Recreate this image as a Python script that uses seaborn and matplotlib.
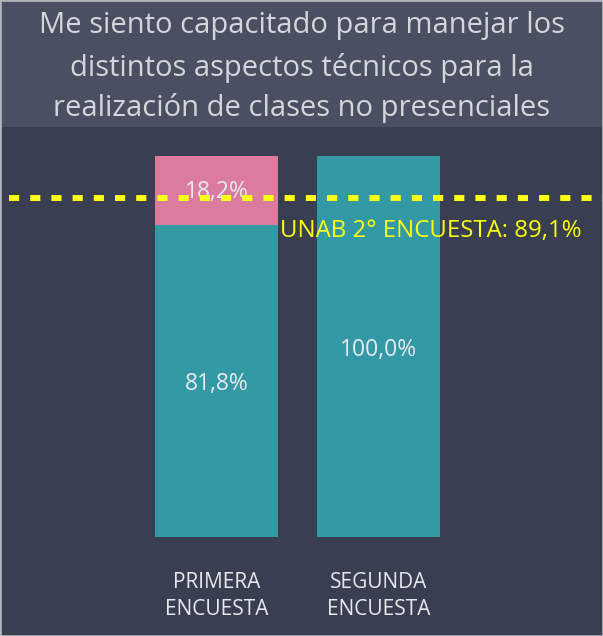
import matplotlib
matplotlib.use("Agg")
import matplotlib.pyplot as plt
import seaborn as sns
import pandas as pd
from matplotlib.patches import Rectangle

categories = ["PRIMERA\nENCUESTA", "SEGUNDA\nENCUESTA"]
teal_values = [81.8, 100.0]
pink_values = [18.2, 0.0]
reference_value = 89.1
reference_label = "UNAB 2° ENCUESTA: 89,1%"
title_lines = ["Me siento capacitado para manejar los",
               "distintos aspectos técnicos para la",
               "realización de clases no presenciales"]

BG = "#393e50"
BAND = "#4a5061"
TEAL = "#3399a4"
PINK = "#db7c9e"
TXT = "#e6e9ef"
YEL = "#fbff12"

sns.set_theme(style="white")
plt.rcParams['font.family'] = ['Open Sans', 'DejaVu Sans']

df = pd.DataFrame({"cat": categories, "teal": teal_values, "pink": pink_values})
df["total"] = df["teal"] + df["pink"]

fig = plt.figure(figsize=(6.03, 6.36), dpi=100)
fig.patch.set_facecolor(BG)

# title band
fig.patches.append(Rectangle((0, 1 - 127/636), 1, 127/636, transform=fig.transFigure,
                             facecolor=BAND, edgecolor="none", zorder=0))
for line, ypx in zip(title_lines, [26, 68, 108]):
    fig.text(0.5, 1 - ypx/636, line, ha="center", va="center", color="#d4d6dc",
             fontsize=21)

ax = fig.add_axes([0, (636-537)/636, 1, 381/636])
ax.set_facecolor("none")
sns.barplot(data=df, x="cat", y="total", color=PINK, width=0.76, ax=ax,
            saturation=1, edgecolor="none", linewidth=0)
sns.barplot(data=df, x="cat", y="teal", color=TEAL, width=0.76, ax=ax,
            saturation=1, edgecolor="none", linewidth=0)
ax.set_ylim(0, 100)
ax.set_xlim(-216.5/162, (603-216.5)/162)
ax.axhline(reference_value, xmin=9/603, xmax=1, color=YEL, linestyle=(0, (1.7, 1.85)),
           linewidth=4.3, zorder=5, dash_capstyle="butt")
ax.text(0.964, reference_value - 5.6, reference_label, transform=ax.get_yaxis_transform(),
        ha="right", va="top", color=YEL, fontsize=17.3)

for i, row in df.iterrows():
    ax.text(i, row["teal"] / 2 - 0.8, f"{row['teal']:.1f}%".replace(".", ","),
            ha="center", va="center", color=TXT, fontsize=16.5, zorder=4)
    if row["pink"] > 0:
        ax.text(i, row["teal"] + row["pink"] / 2 - 0.4, f"{row['pink']:.1f}%".replace(".", ","),
                ha="center", va="center", color=TXT, fontsize=16.5, zorder=4)

ax.set_xlabel("")
ax.set_ylabel("")
ax.set_yticks([])
ax.tick_params(axis="x", length=0, pad=25, colors=TXT, labelsize=15)
for lbl in ax.get_xticklabels():
    lbl.set_linespacing(1.4)
for s in ax.spines.values():
    s.set_visible(False)

fig.patches.append(Rectangle((0, 0), 1, 1, transform=fig.transFigure,
                             facecolor="none", edgecolor="#b0b3b8", linewidth=2, zorder=10))

fig.savefig("out.png", dpi=100, facecolor=BG)
